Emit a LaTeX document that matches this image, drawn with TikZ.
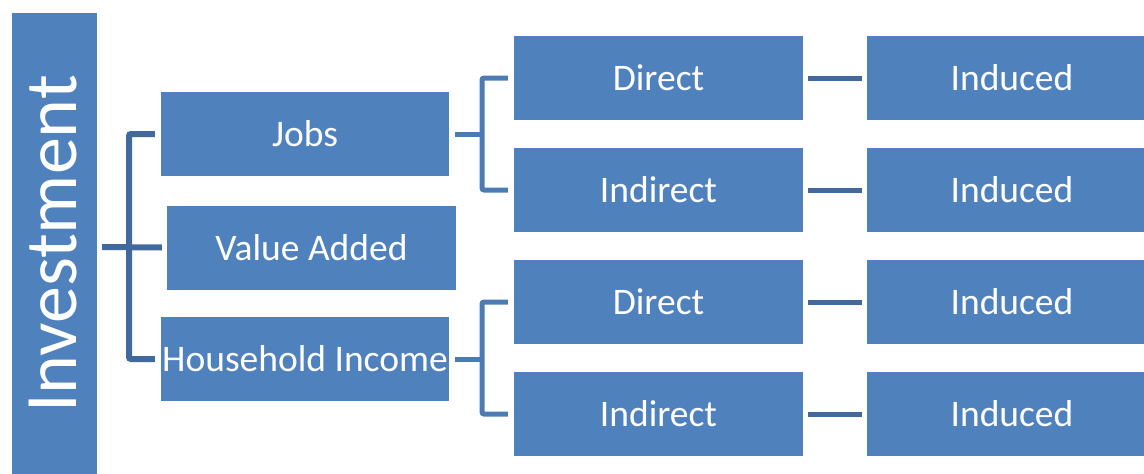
\documentclass[tikz,border=0pt]{standalone}
\usepackage{fontspec}
\setmainfont{Carlito}
\definecolor{boxblue}{HTML}{4F81BD}
\definecolor{darkline}{HTML}{41699D}
\definecolor{lightline}{HTML}{4A7BB5}
\begin{document}
\begin{tikzpicture}[x=1pt,y=-1pt,
  blk/.style={fill=boxblue,text=white,inner sep=0pt,anchor=center,
    font=\fontsize{37.5}{42}\selectfont},
  wbox/.style={blk,minimum width=289pt,minimum height=84pt},
  ibox/.style={blk,minimum width=290pt,minimum height=84pt},
  dconn/.style={draw=darkline,line width=6pt,rounded corners=2pt},
  lconn/.style={draw=lightline,line width=5pt,rounded corners=2pt}]
\useasboundingbox (0,0) rectangle (1144,474);
% investment bar
\node[blk,minimum width=85pt,minimum height=470pt] (inv) at (54.5,248) {};
\node[text=white,inner sep=0pt,rotate=90,font=\fontsize{74}{80}\selectfont] (invt) at (53,244) {Investment};
% middle column
\node[wbox,minimum width=288pt] (jobs) at (305,134) {Jobs};
\node[wbox] (va) at (311.5,247.5) {Value Added};
\node[wbox,minimum width=288pt] (hh) at (305,359) {Household Income};
% right column
\node[wbox] (d1) at (658.5,78) {Direct};
\node[wbox] (i1) at (658.5,190) {Indirect};
\node[wbox] (d2) at (658.5,302) {Direct};
\node[wbox] (i2) at (658.5,414) {Indirect};
% induced
\node[ibox] (n1) at (1012,78) {Induced};
\node[ibox] (n2) at (1012,190) {Induced};
\node[ibox] (n3) at (1012,302) {Induced};
\node[ibox] (n4) at (1012,414) {Induced};
% left bracket
\coordinate (lb) at (129,247);
\draw[dconn] ([xshift=-6pt]jobs.west) -| (lb) |- ([xshift=-6pt]hh.west);
\draw[dconn] ([xshift=5pt]inv.east |- lb) -- ([xshift=-5pt]va.west);
% jobs bracket
\coordinate (jb) at (482,134);
\draw[lconn] ([xshift=6pt]jobs.east) -- (jb);
\draw[lconn] ([xshift=-6pt]d1.west) -| (jb) |- ([xshift=-6pt]i1.west);
% household bracket
\coordinate (hb) at (482,359);
\draw[lconn] ([xshift=6pt]hh.east) -- (hb);
\draw[lconn] ([xshift=-6pt]d2.west) -| (hb) |- ([xshift=-6pt]i2.west);
% induced links
\draw[dconn,line width=5pt] ([xshift=5pt]d1.east) -- ([xshift=-5pt]n1.west);
\draw[dconn,line width=5pt] ([xshift=5pt]i1.east) -- ([xshift=-5pt]n2.west);
\draw[dconn,line width=5pt] ([xshift=5pt]d2.east) -- ([xshift=-5pt]n3.west);
\draw[dconn,line width=5pt] ([xshift=5pt]i2.east) -- ([xshift=-5pt]n4.west);
\end{tikzpicture}
\end{document}
